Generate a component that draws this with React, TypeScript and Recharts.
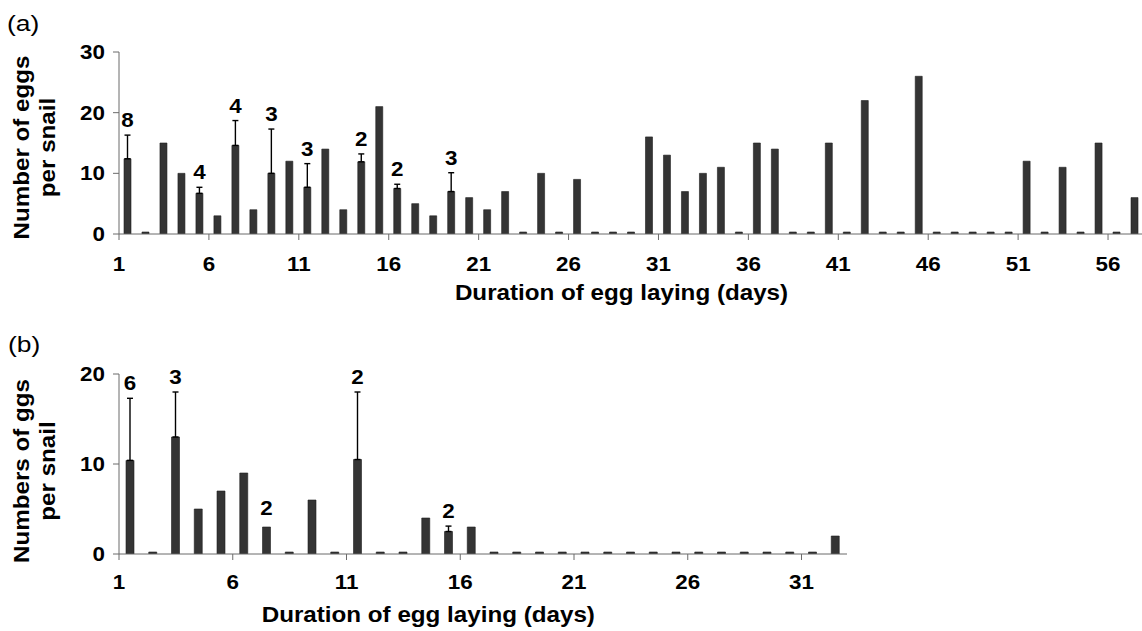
import React from 'react';
import { BarChart, Bar, XAxis, YAxis, ErrorBar, LabelList } from 'recharts';

// ---------- Panel (a) ----------
const topDays = [
  1, 2, 3, 4, 5, 6, 7, 8, 9, 10, 11, 12, 13, 14, 15, 16, 17, 18, 19, 20,
  21, 22, 23, 24, 25, 26, 27, 28, 29, 30, 31, 32, 33, 34, 35, 36, 37, 38, 39, 40,
  41, 42, 43, 44, 45, 46, 47, 48, 49, 50, 51, 52, 53, 54, 55, 56, 57,
];
const topMeans = [
  12.4, 0, 15, 10, 6.7, 3, 14.6, 4, 10, 12, 7.7, 14, 4, 11.9, 21, 7.5, 5, 3, 7, 6,
  4, 7, 0, 10, 0, 9, 0, 0, 0, 16, 13, 7, 10, 11, 0, 15, 14, 0, 0, 15,
  0, 22, 0, 0, 26, 0, 0, 0, 0, 0, 12, 0, 11, 0, 15, 0, 6,
];
const topErrDays = [1, 5, 7, 9, 11, 14, 16, 19];
const topErrValues = [3.9, 1.0, 4.1, 7.3, 3.9, 1.3, 0.7, 3.1];
const topNDays = [1, 5, 7, 9, 11, 14, 16, 19];
const topNValues = [8, 4, 4, 3, 3, 2, 2, 3];
const topXTicks = [1, 6, 11, 16, 21, 26, 31, 36, 41, 46, 51, 56];
const topYTicks = [0, 10, 20, 30];

// ---------- Panel (b) ----------
const bottomDays = [
  1, 2, 3, 4, 5, 6, 7, 8, 9, 10, 11, 12, 13, 14, 15, 16,
  17, 18, 19, 20, 21, 22, 23, 24, 25, 26, 27, 28, 29, 30, 31, 32,
];
const bottomMeans = [
  10.4, 0, 13, 5, 7, 9, 3, 0, 6, 0, 10.5, 0, 0, 4, 2.5, 3,
  0, 0, 0, 0, 0, 0, 0, 0, 0, 0, 0, 0, 0, 0, 0, 2,
];
const bottomErrDays = [1, 3, 11, 15];
const bottomErrValues = [6.9, 5.0, 7.5, 0.6];
const bottomNDays = [1, 3, 7, 11, 15];
const bottomNValues = [6, 3, 2, 2, 2];
const bottomXTicks = [1, 6, 11, 16, 21, 26, 31];
const bottomYTicks = [0, 10, 20];

type Row = {
  day: number;
  mean: number;
  errRange?: [number, number];
  err: number | null;
  nErr: number | null;
  nPlain: number | null;
};

function buildRows(
  days: number[],
  means: number[],
  errDays: number[],
  errValues: number[],
  nDays: number[],
  nValues: number[]
): Row[] {
  return days.map((d, i) => {
    const ei = errDays.indexOf(d);
    const ni = nDays.indexOf(d);
    const e = ei >= 0 ? errValues[ei] : null;
    const n = ni >= 0 ? nValues[ni] : null;
    return {
      day: d,
      mean: means[i],
      errRange: e !== null ? [0, e] : undefined,
      err: e,
      nErr: e !== null ? n : null,
      nPlain: e === null ? n : null,
    };
  });
}

const topRows = buildRows(topDays, topMeans, topErrDays, topErrValues, topNDays, topNValues);
const bottomRows = buildRows(
  bottomDays,
  bottomMeans,
  bottomErrDays,
  bottomErrValues,
  bottomNDays,
  bottomNValues
);

const FONT = '"Liberation Sans", Arial, Helvetica, sans-serif';
const AXIS_COLOR = '#6b6b6b';
const BAR_COLOR = '#343434';

// Tick drawn at the left edge of each day's band (as in the original figure)
const makeXTick = (labelDrop: number) => (props: any) => {
  const { x, y, payload } = props;
  const off = payload && typeof payload.offset === 'number' ? payload.offset : 0;
  const tx = x - off;
  return (
    <g>
      <line x1={tx} y1={y} x2={tx} y2={y + 6} stroke={AXIS_COLOR} strokeWidth={1} />
      <text
        transform={`translate(${tx},${y + labelDrop}) scale(1.12,1)`}
        textAnchor="middle"
        fontFamily={FONT}
        fontWeight="bold"
        fontSize={20}
        fill="#000"
      >
        {payload.value}
      </text>
    </g>
  );
};

const TopXTick = makeXTick(37);
const BottomXTick = makeXTick(35);

const YTick = (props: any) => {
  const { x, y, payload } = props;
  return (
    <text
      transform={`translate(${x},${y + 7}) scale(1.12,1)`}
      textAnchor="end"
      fontFamily={FONT}
      fontWeight="bold"
      fontSize={20}
      fill="#000"
    >
      {payload.value}
    </text>
  );
};

const makeNLabel = (gap: number) => (props: any) => {
  const vb = props.viewBox || props;
  const { value } = props;
  if (value === null || value === undefined) return null;
  const cx = vb.x + vb.width / 2;
  const top = Math.min(vb.y, vb.y + vb.height);
  return (
    <text
      transform={`translate(${cx},${top - gap}) scale(1.12,1)`}
      textAnchor="middle"
      fontFamily={FONT}
      fontWeight="bold"
      fontSize={20}
      fill="#000"
    >
      {value}
    </text>
  );
};

const ErrNLabel = makeNLabel(8);
const PlainNLabel = makeNLabel(12);

type PanelProps = {
  rows: Row[];
  width: number;
  height: number;
  margin: { top: number; right: number; bottom: number; left: number };
  barSize: number;
  xTicks: number[];
  yDomain: [number, number];
  yTicks: number[];
  XTick: any;
};

const Panel = ({ rows, width, height, margin, barSize, xTicks, yDomain, yTicks, XTick }: PanelProps) => (
  <BarChart width={width} height={height} data={rows} margin={margin} barSize={barSize}>
    <XAxis
      dataKey="day"
      type="category"
      ticks={xTicks}
      interval={0}
      height={40}
      tickSize={0}
      tickMargin={0}
      axisLine={{ stroke: AXIS_COLOR, strokeWidth: 1 }}
      tickLine={false}
      tick={<XTick />}
    />
    <YAxis
      domain={yDomain}
      ticks={yTicks}
      interval={0}
      allowDataOverflow
      width={119}
      tickSize={6}
      tickMargin={8}
      axisLine={{ stroke: AXIS_COLOR, strokeWidth: 1 }}
      tickLine={{ stroke: AXIS_COLOR, strokeWidth: 1 }}
      tick={<YTick />}
    />
    <Bar
      dataKey="mean"
      stackId="s"
      fill={BAR_COLOR}
      stroke="#1e1e1e"
      strokeWidth={0.6}
      minPointSize={2}
      isAnimationActive={false}
    >
      <ErrorBar dataKey="errRange" width={3} stroke="#000" strokeWidth={1.4} direction="y" />
      <LabelList dataKey="nPlain" position="top" content={<PlainNLabel />} />
    </Bar>
    <Bar dataKey="err" stackId="s" fill="transparent" isAnimationActive={false}>
      <LabelList dataKey="nErr" position="top" content={<ErrNLabel />} />
    </Bar>
  </BarChart>
);

const T = ({
  x,
  y,
  children,
  size,
  bold = true,
  rotate = false,
  anchor = 'middle',
  sx = 1.1,
}: any) => (
  <text
    transform={`translate(${x},${y})${rotate ? ' rotate(-90)' : ''} scale(${sx},1)`}
    textAnchor={anchor}
    fontFamily={FONT}
    fontWeight={bold ? 'bold' : 'normal'}
    fontSize={size}
    fill="#000"
  >
    {children}
  </text>
);

export default function App() {
  return (
    <div
      style={{
        position: 'absolute',
        left: 0,
        top: 0,
        width: 1142,
        height: 631,
        overflow: 'hidden',
        background: '#fff',
      }}
    >
      <div style={{ position: 'absolute', left: 0, top: 0 }}>
        <Panel
          rows={topRows}
          width={1160}
          height={300}
          margin={{ top: 52, right: 16, bottom: 26, left: 0 }}
          barSize={7}
          xTicks={topXTicks}
          yDomain={[0, 30]}
          yTicks={topYTicks}
          XTick={TopXTick}
        />
      </div>
      <div style={{ position: 'absolute', left: 0, top: 320 }}>
        <Panel
          rows={bottomRows}
          width={860}
          height={300}
          margin={{ top: 54, right: 13, bottom: 26, left: 0 }}
          barSize={8}
          xTicks={bottomXTicks}
          yDomain={[0, 20]}
          yTicks={bottomYTicks}
          XTick={BottomXTick}
        />
      </div>
      <svg
        width={1142}
        height={631}
        style={{ position: 'absolute', left: 0, top: 0, pointerEvents: 'none' }}
      >
        <T x={7} y={31} size={22} bold={false} anchor="start" sx={1.2}>(a)</T>
        <T x={28.5} y={147.5} size={22} rotate>Number of eggs</T>
        <T x={55.2} y={147.5} size={22} rotate>per snail</T>
        <T x={621.5} y={300} size={22}>Duration of egg laying (days)</T>

        <T x={8} y={352} size={22} bold={false} anchor="start" sx={1.2}>(b)</T>
        <T x={28.5} y={471} size={22} rotate>Numbers of ggs</T>
        <T x={55.2} y={471} size={22} rotate>per snail</T>
        <T x={428.3} y={621.5} size={22}>Duration of egg laying (days)</T>
      </svg>
    </div>
  );
}
